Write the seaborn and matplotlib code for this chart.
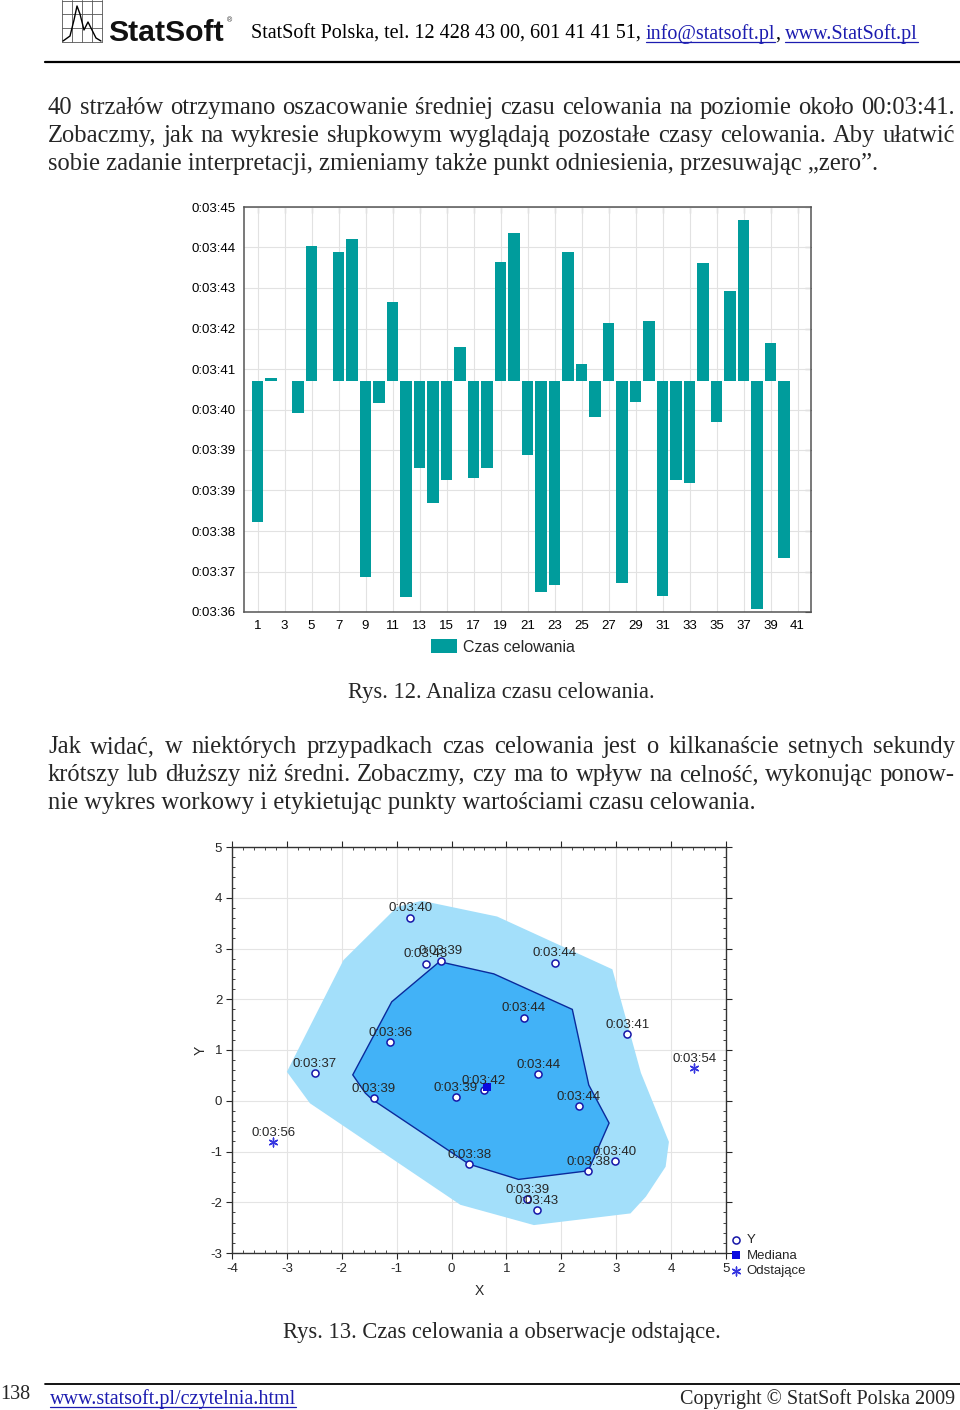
import numpy as np
import pandas as pd
import matplotlib
matplotlib.use("Agg")
import matplotlib.pyplot as plt
import seaborn as sns
from matplotlib.lines import Line2D
from matplotlib.ticker import AutoMinorLocator

# ---------------- data: bar chart (aiming time, seconds past 0:03:00) ----------------
shot = list(range(1, 41))
aim_time_s = [37.99, 41.21, np.nan, 40.43, 44.13, np.nan, 44.00, 44.28, 36.77, 40.64,
              42.88, 36.33, 39.19, 38.42, 38.93, 41.90, 38.97, 39.20, 43.77, 44.42,
              39.48, 36.44, 36.60, 43.99, 41.52, 40.34, 42.43, 36.65, 40.67, 42.46,
              36.36, 38.94, 38.87, 43.75, 40.23, 43.13, 44.72, 36.06, 41.97, 37.21]
baseline_s = 41.13
bar_ytick_values = [36.0, 36.9, 37.8, 38.7, 39.6, 40.5, 41.4, 42.3, 43.2, 44.1, 45.0]
bar_ytick_labels = ["0:03:36", "0:03:37", "0:03:38", "0:03:39", "0:03:39", "0:03:40",
                    "0:03:41", "0:03:42", "0:03:43", "0:03:44", "0:03:45"]
bar_xticks = list(range(1, 42, 2))

# ---------------- data: bag plot ----------------
pt_x = [-0.75, -0.47, -0.20, 1.88, 1.32, 3.20, -1.12, -2.49, 1.58, -1.42,
        0.08, 0.59, 2.32, 0.32, 2.49, 2.97, 1.38, 1.55]
pt_y = [3.61, 2.70, 2.76, 2.72, 1.64, 1.31, 1.16, 0.54, 0.52, 0.05,
        0.07, 0.21, -0.11, -1.25, -1.38, -1.19, -1.94, -2.16]
pt_lab = ["0:03:40", "0:03:43", "0:03:39", "0:03:44", "0:03:44", "0:03:41", "0:03:36",
          "0:03:37", "0:03:44", "0:03:39", "0:03:39", "0:03:42", "0:03:44", "0:03:38",
          "0:03:38", "0:03:40", "0:03:39", "0:03:43"]
median_x = [0.65]
median_y = [0.28]
out_x = [4.42, -3.25]
out_y = [0.64, -0.82]
out_lab = ["0:03:54", "0:03:56"]
outer_x = [-3.00, -1.97, -0.99, -0.54, 0.83, 2.93, 3.45, 3.96, 3.90, 3.54, 3.26, 1.50, 0.16, -2.58]
outer_y = [0.57, 2.77, 3.82, 3.94, 3.63, 2.59, 0.55, -0.81, -1.30, -1.89, -2.22, -2.45, -2.05, -0.05]
inner_x = [-1.80, -1.09, -0.22, 0.77, 2.20, 2.50, 2.87, 2.49, 1.22, 0.32, -1.45, -1.57]
inner_y = [0.51, 1.95, 2.74, 2.50, 1.80, 0.31, -0.44, -1.38, -1.55, -1.25, 0.03, 0.15]

# ---------------- texts ----------------
para1 = ["40 strzałów otrzymano oszacowanie średniej czasu celowania na poziomie około 00:03:41.",
         "Zobaczmy, jak na wykresie słupkowym wyglądają pozostałe czasy celowania. Aby ułatwić",
         "sobie zadanie interpretacji, zmieniamy także punkt odniesienia, przesuwając „zero”."]
para2 = ["Jak widać, w niektórych przypadkach czas celowania jest o kilkanaście setnych sekundy",
         "krótszy lub dłuższy niż średni. Zobaczmy, czy ma to wpływ na celność, wykonując ponow-",
         "nie wykres workowy i etykietując punkty wartościami czasu celowania."]
cap1 = "Rys. 12. Analiza czasu celowania."
cap2 = "Rys. 13. Czas celowania a obserwacje odstające."

TEAL = "#009C9C"
LIGHT = "#A3DFFA"
MID = "#42B2F7"
EDGE = "#0A2A9C"
PTBLUE = "#1616A8"
MEDBLUE = "#0A0AE0"
STARBLUE = "#3535E0"
LINK = "#1C1CB0"
SERIF = "Liberation Serif"
SANS = "Liberation Sans"

sns.set_theme(style="white")
plt.rcParams["font.family"] = [SANS, "DejaVu Sans"]
plt.rcParams["axes.unicode_minus"] = False

W, H = 960, 1410
fig = plt.figure(figsize=(W / 100, H / 100), dpi=100)
renderer = fig.canvas.get_renderer()


def fx(px):
    return px / W


def fy(py):
    return 1 - py / H


def ax_rect(l, t, r, b):
    return [fx(l), fy(b), (r - l) / W, (b - t) / H]


def twidth(s, size, family=SERIF, weight="normal"):
    t = fig.text(0, 0, s, fontsize=size, family=family, weight=weight)
    w = t.get_window_extent(renderer).width
    t.remove()
    return w


def fit_size(s, target, family=SERIF, weight="normal"):
    return 14 * target / twidth(s, 14, family, weight)


def hline(x0, x1, y, lw=1.0, color="black"):
    fig.add_artist(Line2D([fx(x0), fx(x1)], [fy(y), fy(y)], transform=fig.transFigure,
                          color=color, lw=lw))


def justified(line, x0, x1, y, size):
    words = line.split(" ")
    widths = [twidth(w, size) for w in words]
    gap = (x1 - x0 - sum(widths)) / (len(words) - 1)
    x = x0
    for w, wd in zip(words, widths):
        fig.text(fx(x), fy(y), w, fontsize=size, family=SERIF, va="baseline", ha="left")
        x += wd + gap


def runs(x0, y, parts, size, family=SERIF):
    space = twidth("x x", size, family) - twidth("xx", size, family)
    x = x0
    for s, color, underline, sp in parts:
        t = fig.text(fx(x), fy(y), s, fontsize=size, family=family, color=color,
                     va="baseline", ha="left")
        w = t.get_window_extent(renderer).width
        if underline:
            hline(x, x + w, y + 2.5, lw=0.9, color=color)
        x += w + (space if sp else 0)


# ---------------- header ----------------
for xx in [62, 72, 82, 92, 102]:
    fig.add_artist(Line2D([fx(xx), fx(xx)], [fy(0), fy(42)], transform=fig.transFigure,
                          color="#555555", lw=0.6))
for yy in [1, 14, 28, 42]:
    hline(62, 102, yy, lw=0.6, color="#555555")
wx = [63, 70, 74, 77, 80, 84, 88, 92, 96, 101]
wy = [41, 36, 20, 6, 14, 30, 22, 30, 38, 41]
fig.add_artist(Line2D([fx(v) for v in wx], [fy(v) for v in wy], transform=fig.transFigure,
                      color="black", lw=1.0))
logo_size = fit_size("StatSoft", 117, SANS, "bold")
fig.text(fx(108), fy(41), "StatSoft", fontsize=logo_size, family=SANS, weight="bold",
         va="baseline", color="#111111")
fig.text(fx(227), fy(22), "®", fontsize=5, family=SANS, va="baseline")

head_parts = [("StatSoft Polska, tel. 12 428 43 00, 601 41 41 51,", "black", False, True),
              ("info@statsoft.pl", LINK, True, False),
              (",", "black", False, True),
              ("www.StatSoft.pl", LINK, True, False)]
head_size = fit_size("StatSoft Polska, tel. 12 428 43 00, 601 41 41 51, info@statsoft.pl, www.StatSoft.pl", 674)
runs(251, 39, head_parts, head_size)
hline(45, 960, 62, lw=1.6)

# ---------------- body text ----------------
body_size = fit_size(para1[2], 832)
justified(para1[0], 48, 955, 114, body_size)
justified(para1[1], 48, 955, 142, body_size)
fig.text(fx(48), fy(170), para1[2], fontsize=body_size, family=SERIF, va="baseline")

justified(para2[0], 48, 955, 753, body_size)
justified(para2[1], 48, 955, 781, body_size)
fig.text(fx(48), fy(809), para2[2], fontsize=body_size, family=SERIF, va="baseline")

cap_size = fit_size(cap1, 307)
fig.text(fx(501), fy(698), cap1, fontsize=cap_size, family=SERIF, va="baseline", ha="center")
fig.text(fx(502), fy(1338), cap2, fontsize=cap_size, family=SERIF, va="baseline", ha="center")

# ---------------- footer ----------------
hline(45, 960, 1384, lw=1.3)
foot_size = fit_size("www.statsoft.pl/czytelnia.html", 248)
fig.text(fx(0), fy(1399), "138", fontsize=foot_size, family=SERIF, va="baseline")
runs(50, 1404, [("www.statsoft.pl/czytelnia.html", LINK, True, False)], foot_size)
fig.text(fx(955), fy(1404), "Copyright © StatSoft Polska 2009", fontsize=foot_size,
         family=SERIF, va="baseline", ha="right")

# ---------------- bar chart ----------------
bar_df = pd.DataFrame({"Strzał": shot, "Czas": aim_time_s}).dropna()
bar_df["Odchylenie"] = bar_df["Czas"] - baseline_s

ax1 = fig.add_axes(ax_rect(244, 207, 811, 612))
sns.barplot(data=bar_df, x="Strzał", y="Odchylenie", native_scale=True, color=TEAL,
            saturation=1, width=0.82, linewidth=0, ax=ax1, label="Czas celowania", zorder=3)
ax1.set_xlim(0, 42)
ax1.set_ylim(bar_ytick_values[0] - baseline_s, bar_ytick_values[-1] - baseline_s)
ax1.set_xticks(bar_xticks)
ax1.set_xticklabels([str(v) for v in bar_xticks])
ax1.set_yticks([v - baseline_s for v in bar_ytick_values])
ax1.set_yticklabels(bar_ytick_labels)
ax1.set_xlabel("")
ax1.set_ylabel("")
ax1.grid(True, color="#E2E2E2", linewidth=0.8)
ax1.set_axisbelow(True)
for sp in ax1.spines.values():
    sp.set_color("#555555")
    sp.set_linewidth(1.1)
ax1.tick_params(axis="both", direction="out", length=4, width=0.8, colors="#444444",
                labelsize=9.5, labelcolor="black", pad=2)
sec_x = ax1.secondary_xaxis("top")
sec_x.set_xticks(bar_xticks)
sec_x.set_xticklabels([])
sec_x.tick_params(direction="in", length=4, width=0.8, colors="#444444")
sec_x.spines["top"].set_visible(False)
sec_y = ax1.secondary_yaxis("right")
sec_y.set_yticks([v - baseline_s for v in bar_ytick_values])
sec_y.set_yticklabels([])
sec_y.tick_params(direction="in", length=4, width=0.8, colors="#444444")
sec_y.spines["right"].set_visible(False)
h1, l1 = ax1.get_legend_handles_labels()
ax1.legend(h1[:1], l1[:1], loc="center", bbox_to_anchor=(fx(503), fy(647)),
           bbox_transform=fig.transFigure, frameon=False, fontsize=11.5,
           handlelength=1.6, handleheight=0.95, handletextpad=0.4, borderpad=0)

# ---------------- bag plot ----------------
ax2 = fig.add_axes(ax_rect(232, 847, 726, 1253))
ax2.fill(outer_x, outer_y, color=LIGHT, lw=0, zorder=1)
ax2.fill(inner_x, inner_y, facecolor=MID, edgecolor=EDGE, lw=1.0, zorder=2)
sns.scatterplot(x=pt_x, y=pt_y, marker="o", s=26, facecolor="white", edgecolor=PTBLUE,
                linewidth=1.1, label="Y", ax=ax2, zorder=4)
sns.scatterplot(x=median_x, y=median_y, marker="s", s=30, color=MEDBLUE, linewidth=0,
                label="Mediana", ax=ax2, zorder=5)
sns.scatterplot(x=out_x, y=out_y, marker=(6, 2, 0), s=40, color=STARBLUE, linewidth=1.0,
                label="Odstające", ax=ax2, zorder=5)
for x, y, t in zip(pt_x + out_x, pt_y + out_y, pt_lab + out_lab):
    ax2.annotate(t, (x, y), xytext=(0, 4.5), textcoords="offset points", ha="center",
                 va="baseline", fontsize=9.5, zorder=6)
ax2.set_xlim(-4, 5)
ax2.set_ylim(-3, 5)
ax2.set_xticks(range(-4, 6))
ax2.set_yticks(range(-3, 6))
ax2.xaxis.set_minor_locator(AutoMinorLocator(5))
ax2.yaxis.set_minor_locator(AutoMinorLocator(5))
ax2.grid(True, which="major", color="#E4E4E4", linewidth=0.8, zorder=0)
ax2.set_axisbelow(True)
for sp in ax2.spines.values():
    sp.set_color("#333333")
    sp.set_linewidth(1.0)
ax2.tick_params(axis="both", which="major", direction="out", length=4, width=0.8,
                labelsize=9.5, pad=3, bottom=True, left=True, top=True, right=True)
ax2.tick_params(axis="both", which="minor", direction="in", length=2.5, width=0.6,
                bottom=True, left=True, top=True, right=True)
ax2.set_xlabel("X", fontsize=10, labelpad=7)
ax2.set_ylabel("Y", fontsize=10, labelpad=2)
h2, l2 = ax2.get_legend_handles_labels()
ax2.legend(h2, l2, loc="upper left", bbox_to_anchor=(fx(731), fy(1234)),
           bbox_transform=fig.transFigure, frameon=False, fontsize=9.5, borderpad=0,
           handlelength=0.8, handletextpad=0.4, labelspacing=0.25, borderaxespad=0)

fig.savefig("out.png", dpi=100)
